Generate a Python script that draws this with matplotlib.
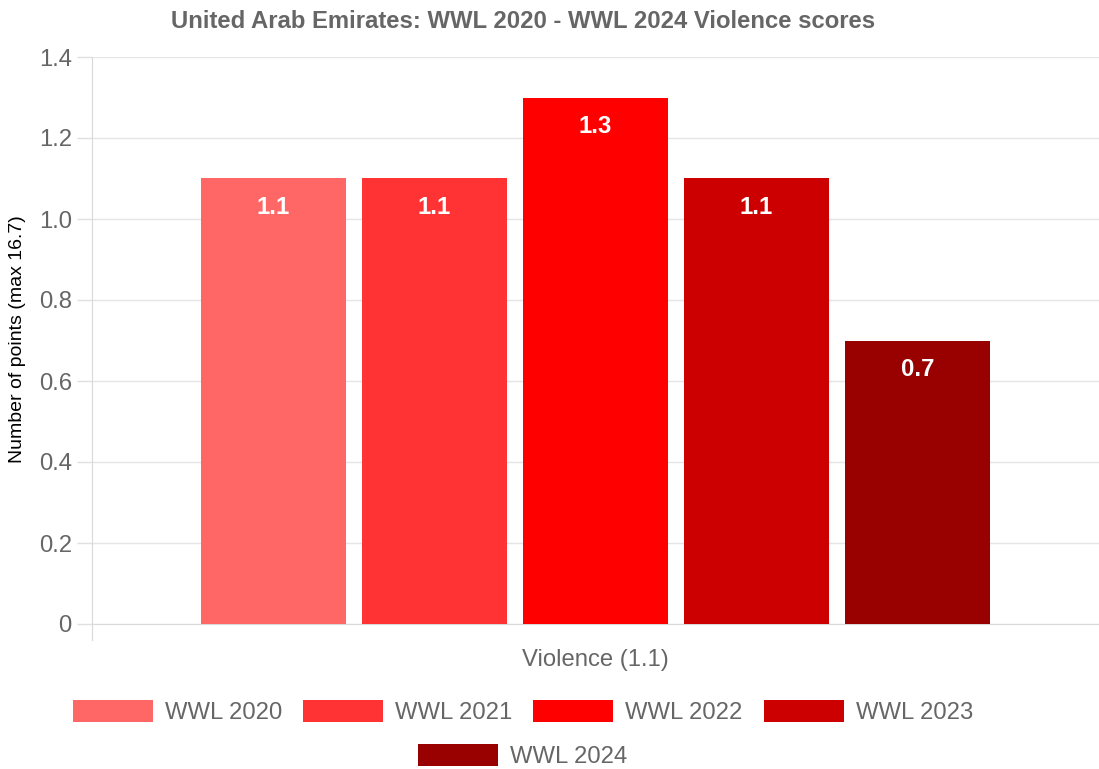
import matplotlib.pyplot as plt

plt.rcParams['font.family'] = ['Liberation Sans', 'DejaVu Sans']

category = 'Violence (1.1)'
series = ['WWL 2020', 'WWL 2021', 'WWL 2022', 'WWL 2023', 'WWL 2024']
scores = [1.1, 1.1, 1.3, 1.1, 0.7]
colors = ['#ff6666', '#ff3333', '#ff0000', '#cc0000', '#990000']
yticks = [0, 0.2, 0.4, 0.6, 0.8, 1.0, 1.2, 1.4]
ytick_labels = ['0', '0.2', '0.4', '0.6', '0.8', '1.0', '1.2', '1.4']

W, H = 1099, 769
fs = 17.2
fig = plt.figure(figsize=(W / 100, H / 100), dpi=100)
ax = fig.add_axes([92 / W, 1 - 624 / H, 1 - 92 / W, (624 - 57) / H])

# chart.js style grouping: category 80%, bar 90%
n = len(series)
slot = 0.8 / n
bars = []
for i, (name, val, c) in enumerate(zip(series, scores, colors)):
    x = -0.4 + slot * (i + 0.5)
    b = ax.bar(x, val, slot * 0.9, color=c, label=name, zorder=3)
    bars.append(b)
    ax.annotate('{}'.format(val), xy=(x, val), xytext=(0, -21),
                textcoords='offset points', ha='center', va='center',
                color='white', fontsize=fs, fontweight='bold', zorder=4)

ax.set_xlim(-0.5, 0.5)
ax.set_ylim(0, 1.4)
ax.set_yticks(yticks)
ax.set_yticklabels(ytick_labels)
ax.set_xticks([])
ax.tick_params(axis='y', length=10.5, width=1, color='#e0e0e0', labelsize=fs,
               labelcolor='#666666', pad=4)
ax.grid(axis='y', color='#e5e5e5', linewidth=1, zorder=0)
for s in ['top', 'right']:
    ax.spines[s].set_visible(False)
ax.spines['left'].set_color('#d9d9d9')
ax.spines['bottom'].set_color('#d9d9d9')
ax.spines['left'].set_bounds(-0.04, 1.4)

ax.set_xlabel(category, fontsize=fs, color='#666666', labelpad=18)
fig.text(18 / W, 1 - 339 / H, 'Number of points (max 16.7)', rotation=90,
         ha='center', va='center', fontsize=14, color='black')
fig.text(523 / W, 1 - 22 / H, 'United Arab Emirates: WWL 2020 - WWL 2024 Violence scores',
         ha='center', va='center', fontsize=fs, fontweight='bold', color='#666666')

leg_kw = dict(frameon=False, fontsize=fs, handlelength=3.35, handleheight=1.05,
              handletextpad=0.5, columnspacing=0.88, labelcolor='#666666',
              loc='center')
leg1 = fig.legend(handles=bars[:4], labels=series[:4], ncol=4,
                  bbox_to_anchor=(523 / W, 1 - 712 / H), **leg_kw)
leg2 = fig.legend(handles=bars[4:], labels=series[4:], ncol=1,
                  bbox_to_anchor=(523 / W, 1 - 756 / H), **leg_kw)

fig.savefig('out.png', dpi=100)
